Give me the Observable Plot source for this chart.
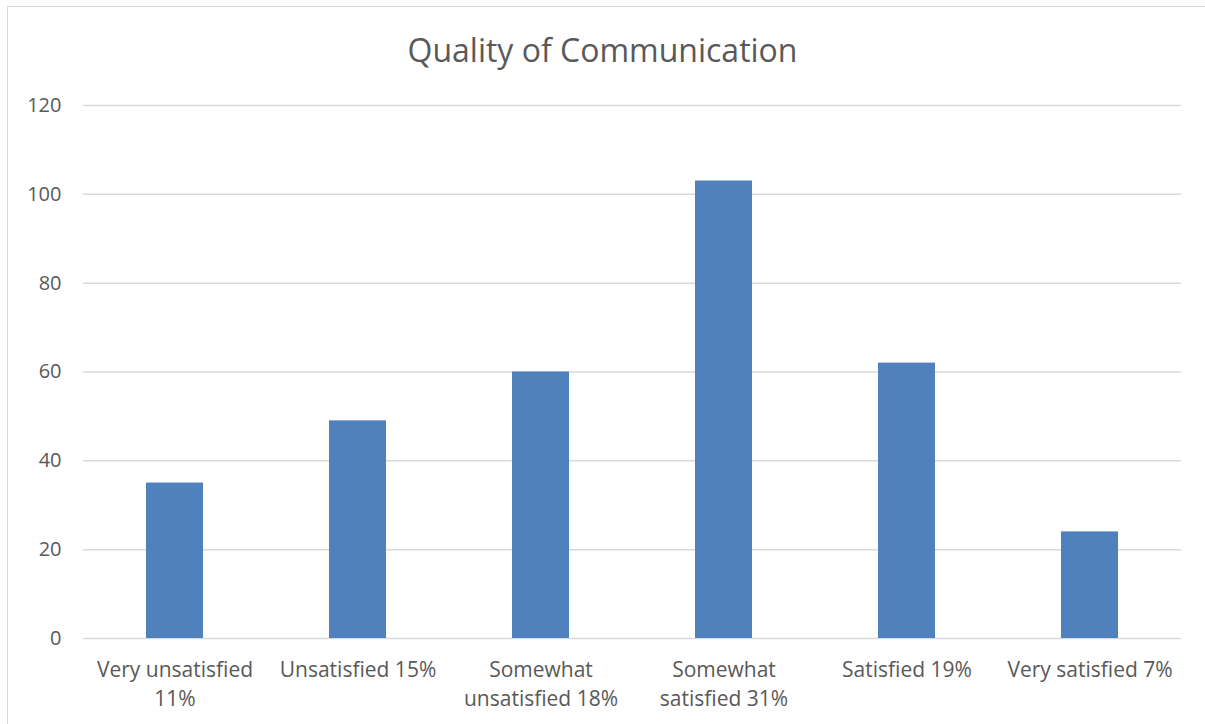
<!DOCTYPE html>
<html>
<head>
<meta charset="utf-8">
<script src="https://cdn.jsdelivr.net/npm/d3@7"></script>
<script src="https://cdn.jsdelivr.net/npm/@observablehq/plot@0.6"></script>
<style>
  html, body { margin: 0; padding: 0; background: #fff; overflow: hidden; }
  #wrap { position: relative; width: 1205px; height: 724px; }
  #frame {
    position: absolute; left: 7px; top: 6px; width: 1210px; height: 730px;
    border-left: 1.5px solid #d9d9d9; border-top: 1.5px solid #d9d9d9;
    box-sizing: border-box; pointer-events: none;
  }
  #title {
    height: 80px; width: 1205px; text-align: center;
    font-family: "Open Sans", sans-serif; font-size: 32px; color: #595959;
    line-height: 100px;
  }
  svg { display: block; }
</style>
</head>
<body>
<div id="wrap">
  <div id="frame"></div>
  <div id="title">Quality of Communication</div>
  <div id="chart"></div>
</div>
<script>
// Responses per satisfaction level, with each level's share of all answers
const categories = ["Very unsatisfied", "Unsatisfied", "Somewhat unsatisfied", "Somewhat satisfied", "Satisfied", "Very satisfied"];
const counts = [35, 49, 60, 103, 62, 24];
const shares = ["11%", "15%", "18%", "31%", "19%", "7%"];
const tickLabels = ["Very unsatisfied\n11%", "Unsatisfied 15%", "Somewhat\nunsatisfied 18%", "Somewhat\nsatisfied 31%", "Satisfied 19%", "Very satisfied 7%"];
const yTicks = [0, 20, 40, 60, 80, 100, 120];

const data = categories.map((c, i) => ({category: c, count: counts[i], share: shares[i]}));
const labelOf = new Map(categories.map((c, i) => [c, tickLabels[i]]));

const chart = Plot.plot({
  width: 1205,
  height: 644,
  marginLeft: 83,
  marginRight: 24,
  marginTop: 25,
  marginBottom: 86,
  style: {fontFamily: "'Open Sans', sans-serif", color: "#595959", background: "transparent"},
  x: {domain: categories, paddingInner: 0.69, paddingOuter: 0.345, label: null},
  y: {domain: [0, 120], label: null},
  marks: [
    Plot.ruleY(yTicks, {stroke: "#d9d9d9", strokeWidth: 1.5}),
    Plot.barY(data, {x: "category", y: "count", fill: "#4f81bd"}),
    Plot.axisY({ticks: yTicks, tickSize: 0, tickPadding: 22, fontSize: 20, fill: "#595959", label: null}),
    Plot.axisX({tickSize: 0, tickPadding: 18, fontSize: 21, lineHeight: 1.38, fill: "#595959",
      tickFormat: (d) => labelOf.get(d), label: null})
  ]
});
document.getElementById("chart").appendChild(chart);
</script>
</body>
</html>
